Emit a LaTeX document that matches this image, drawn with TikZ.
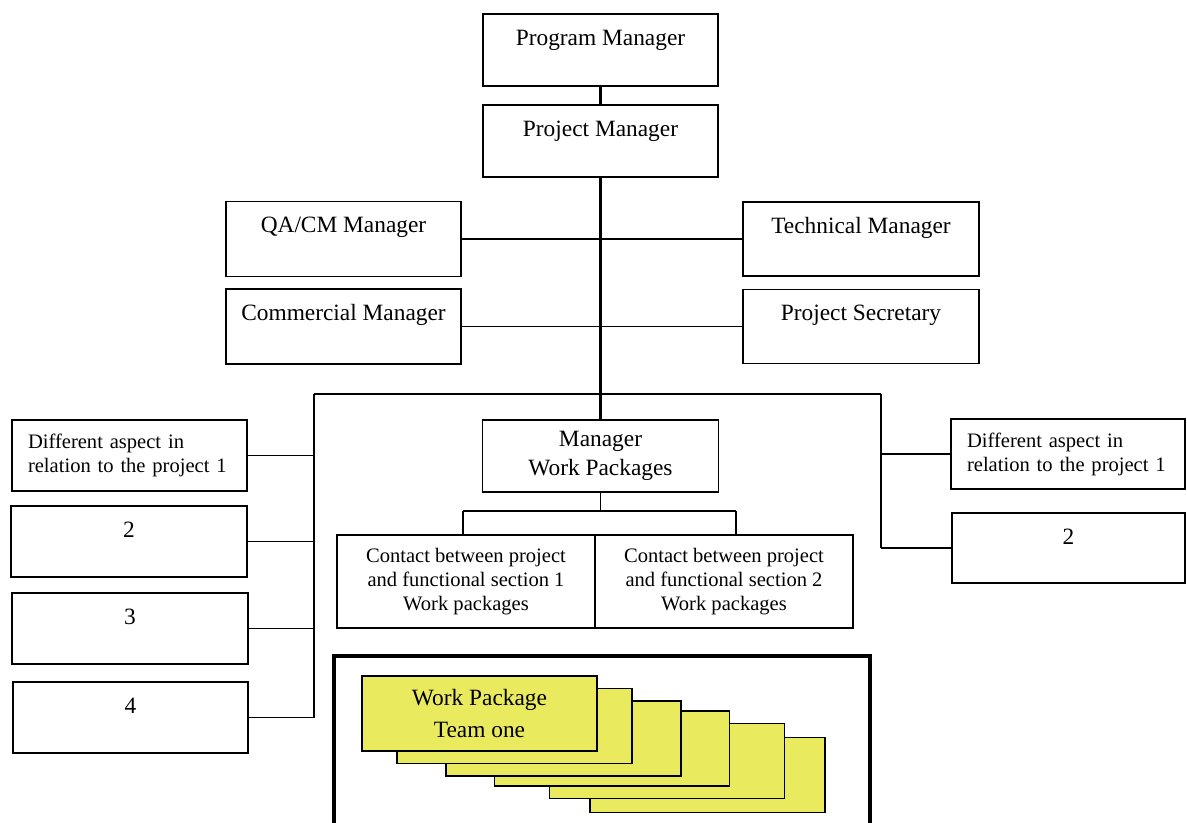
\documentclass[tikz,border=0pt]{standalone}
\usepackage{fontspec}
\setmainfont{Liberation Serif}
\definecolor{cardyellow}{RGB}{234,234,94}
\tikzset{
  box/.style={draw, line width=0.9pt, inner sep=0pt, font=\fontsize{13.3}{16}\selectfont},
  topbox/.style 2 args={box, minimum width=#1, text height=0.62cm, text depth=#2},
  midbox/.style 2 args={box, minimum width=#1, minimum height=#2, align=center},
  sidebox/.style 2 args={draw, line width=0.9pt, inner xsep=0.32cm, inner ysep=0pt,
    text width=#1-0.64cm, minimum height=#2, align=left,
    font=\fontsize{11.7}{13.6}\selectfont},
  contactbox/.style={draw, line width=0.9pt, inner sep=0pt, minimum width=5.16cm,
    minimum height=1.86cm, align=center, font=\fontsize{11.7}{13.6}\selectfont},
  card/.style={draw, line width=1.1pt, fill=cardyellow, inner sep=0pt,
    minimum width=4.70cm, minimum height=1.50cm, align=center,
    font=\fontsize{13.3}{18}\selectfont},
  spine/.style={line width=1.4pt},
  bus/.style={line width=1.2pt},
  link/.style={line width=1.0pt},
  thinlink/.style={line width=0.8pt},
  frame/.style={line width=2.8pt}
}
\begin{document}
\begin{tikzpicture}[x=0.02cm, y=-0.02cm]
\useasboundingbox (0,0) rectangle (1187,822);

% management chain
\node[topbox={4.70cm}{0.82cm}] (pgm) at (600.5,50) {Program Manager};
\node[topbox={4.70cm}{0.82cm}] (prj) at (600.5,141) {Project Manager};
\node[topbox={4.70cm}{0.88cm}] (qa) at (343.5,239) {QA/CM Manager};
\node[topbox={4.72cm}{0.86cm}] (tech) at (861,239) {Technical Manager};
\node[topbox={4.70cm}{0.88cm}] (comm) at (343.5,326.5) {Commercial Manager};
\node[topbox={4.72cm}{0.86cm}] (sec) at (861,326.5) {Project Secretary};

% left column of aspects
\node[sidebox={4.70cm}{1.42cm}] (l1) at (129.5,455.5) {Different aspect in\\relation to the project 1};
\node[topbox={4.72cm}{0.80cm}] (l2) at (129,541.5) {2};
\node[topbox={4.72cm}{0.80cm}] (l3) at (130,628.5) {3};
\node[topbox={4.70cm}{0.80cm}] (l4) at (130.5,717.5) {4};

% right column of aspects
\node[sidebox={4.68cm}{1.40cm}] (r1) at (1068,454) {Different aspect in\\relation to the project 1};
\node[topbox={4.66cm}{0.78cm}] (r2) at (1068.5,548) {2};

% work packages branch
\node[midbox={4.72cm}{1.44cm}, font=\fontsize{13.3}{16.4}\selectfont] (mwp) at (600.5,456) {Manager\\Work Packages};
\node[contactbox] (c1) at (466,581.5) {Contact between project\\and functional section 1\\Work packages};
\node[contactbox] (c2) at (724,581.5) {Contact between project\\and functional section 2\\Work packages};

% bus points
\coordinate (busL) at (314,394);
\coordinate (busR) at (881,394);
\coordinate (tickL) at (463,511);
\coordinate (tickR) at (736,511);

% connectors
\draw[spine] (pgm) -- (prj);
\draw[spine] (prj) -- (mwp);
\draw[spine] (qa) -- (tech);
\draw[thinlink] (comm) -- (sec);
\draw[bus] (busL) -- (busR);
\draw[bus] (busL) -- (busL |- l4.east);
\draw[bus] (busR) -- (busR |- r2.west);
\draw[link] (l1.east) -- (l1.east -| busL);
\draw[link] (l2.east) -- (l2.east -| busL);
\draw[link] (l3.east) -- (l3.east -| busL);
\draw[link] (l4.east) -- (l4.east -| busL);
\draw[link] (r1.west) -- (r1.west -| busR);
\draw[link] (r2.west) -- (r2.west -| busR);
\draw[link] (mwp) -- (mwp.south |- tickL);
\draw[bus] (tickL) -- (tickR);
\draw[bus] (tickL) -- (tickL |- c1.north);
\draw[bus] (tickR) -- (tickR |- c2.north);

% team frame
\draw[frame] (334,840) -- (334,656) -- (870,656) -- (870,840);

% stacked work package cards, back to front
\foreach \n/\cx/\cy in {6/707.5/775, 5/667/761, 4/612/748.5, 3/563.5/738.5, 2/514.5/726}
  \node[card] (card\n) at (\cx,\cy) {};
\node[card] (card1) at (479.5,713.5) {Work Package\\Team one};
\end{tikzpicture}
\end{document}
